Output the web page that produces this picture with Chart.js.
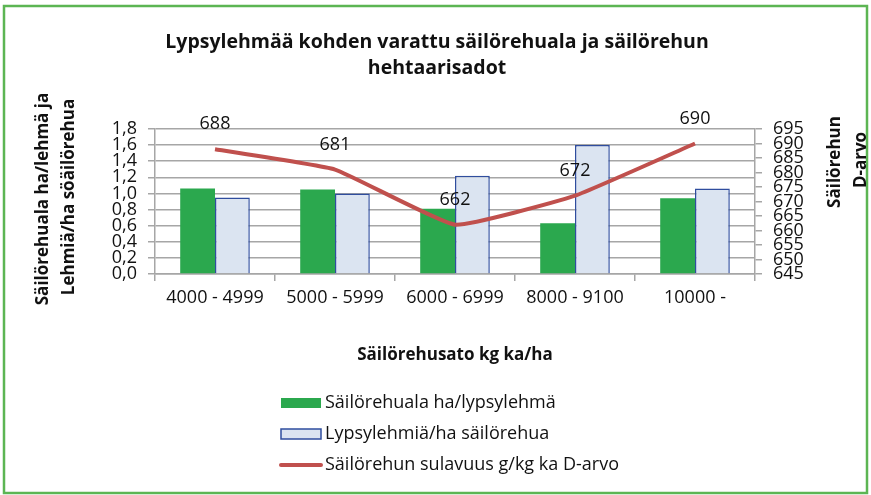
<!DOCTYPE html>
<html>
<head>
<meta charset="utf-8">
<script src="https://cdn.jsdelivr.net/npm/chart.js@4.4.1/dist/chart.umd.min.js"></script>
<style>
  html, body { margin: 0; padding: 0; background: #fff; }
  #wrap { width: 871px; height: 495px; }
</style>
</head>
<body>
<div id="wrap"><canvas id="myChart" width="871" height="495"></canvas></div>
<script>
// data
var categories = ["4000 - 4999", "5000 - 5999", "6000 - 6999", "8000 - 9100", "10000 -"];
var alaPerLehma = [1.06, 1.05, 0.81, 0.63, 0.94];
var lehmiaPerHa = [0.95, 1.00, 1.22, 1.60, 1.06];
var dArvo = [688, 681, 662, 672, 690];

var titleLines = ["Lypsylehmää kohden varattu säilörehuala ja säilörehun", "hehtaarisadot"];
var leftTitle = ["Säilörehuala ha/lehmä ja", "Lehmiä/ha söäilörehua"];
var rightTitle = ["Säilörehun", "D-arvo"];
var xTitle = "Säilörehusato kg ka/ha";

var FONT = "'Open Sans', 'DejaVu Sans', sans-serif";
var gridColor = "#a6a6a6";

// titles, labels, legend and frame
var extras = {
  id: "extras",
  afterDatasetsDraw: function (chart) {
    var ctx = chart.ctx;
    ctx.save();

    // value labels above the line
    var meta = chart.getDatasetMeta(2);
    ctx.fillStyle = "#111";
    ctx.font = "18px " + FONT;
    ctx.textAlign = "center";
    ctx.textBaseline = "middle";
    meta.data.forEach(function (pt, i) {
      ctx.fillText(dArvo[i], pt.x, pt.y - 25);
    });
    ctx.restore();
  },
  afterDraw: function (chart) {
    var ctx = chart.ctx;
    var area = chart.chartArea;
    ctx.save();

    // frame
    ctx.strokeStyle = "#5cb553";
    ctx.lineWidth = 2.5;
    ctx.strokeRect(4, 6, 863, 487);

    // main title
    ctx.fillStyle = "#111";
    ctx.textAlign = "center";
    ctx.textBaseline = "middle";
    ctx.font = "bold 19.5px " + FONT;
    ctx.fillText(titleLines[0], 437, 42);
    ctx.fillText(titleLines[1], 437, 68);

    // x title
    ctx.font = "bold 17px " + FONT;
    ctx.fillText(xTitle, (area.left + area.right) / 2, 355);

    // left title (rotated)
    ctx.save();
    ctx.translate(43, 199);
    ctx.rotate(-Math.PI / 2);
    ctx.fillText(leftTitle[0], 0, 0);
    ctx.restore();
    ctx.save();
    ctx.translate(69, 197);
    ctx.rotate(-Math.PI / 2);
    ctx.fillText(leftTitle[1], 0, 0);
    ctx.restore();

    // right title
    ctx.save();
    ctx.translate(835, 162);
    ctx.rotate(-Math.PI / 2);
    ctx.fillText(rightTitle[0], 0, 0);
    ctx.restore();
    ctx.save();
    ctx.translate(861, 160);
    ctx.rotate(-Math.PI / 2);
    ctx.fillText(rightTitle[1], 0, 0);
    ctx.restore();

    // legend
    var ys = [403, 434, 465];
    ctx.font = "18px " + FONT;
    ctx.textAlign = "left";
    chart.data.datasets.forEach(function (ds, i) {
      var y = ys[i];
      if (ds.type === "line") {
        ctx.strokeStyle = ds.borderColor;
        ctx.lineWidth = 4;
        ctx.lineCap = "round";
        ctx.beginPath();
        ctx.moveTo(281, y);
        ctx.lineTo(321, y);
        ctx.stroke();
      } else {
        ctx.fillStyle = ds.backgroundColor;
        ctx.fillRect(281, y - 5, 40, 10);
        if (ds.borderWidth) {
          ctx.strokeStyle = ds.borderColor;
          ctx.lineWidth = 1.5;
          ctx.strokeRect(281, y - 5, 40, 10);
        }
      }
      ctx.fillStyle = "#111";
      ctx.fillText(ds.label, 325, y);
    });

    ctx.restore();
  }
};

var chart = new Chart(document.getElementById("myChart").getContext("2d"), {
  data: {
    labels: categories,
    datasets: [
      {
        type: "bar",
        label: "Säilörehuala ha/lypsylehmä",
        data: alaPerLehma,
        backgroundColor: "#2ba84e",
        borderWidth: 0,
        yAxisID: "y",
        order: 1,
        barPercentage: 1,
        categoryPercentage: 0.58
      },
      {
        type: "bar",
        label: "Lypsylehmiä/ha säilörehua",
        data: lehmiaPerHa,
        backgroundColor: "#dbe4f1",
        borderColor: "#2f4d9e",
        borderWidth: 1.5,
        yAxisID: "y",
        order: 1,
        barPercentage: 1,
        categoryPercentage: 0.58
      },
      {
        type: "line",
        label: "Säilörehun sulavuus g/kg ka D-arvo",
        data: dArvo,
        borderColor: "#c0504d",
        borderWidth: 4,
        pointRadius: 0,
        tension: 0.12,
        yAxisID: "y1",
        order: 0
      }
    ]
  },
  options: {
    responsive: false,
    animation: false,
    layout: { padding: { left: 0, right: 0, top: 129, bottom: 181 } },
    plugins: {
      legend: { display: false },
      tooltip: { enabled: false },
      title: { display: false }
    },
    scales: {
      x: {
        grid: { offset: true, drawOnChartArea: false, drawTicks: true, tickLength: 7, color: gridColor, lineWidth: 1.5 },
        border: { color: gridColor, width: 1.5 },
        ticks: { color: "#111", font: { family: FONT, size: 18 }, padding: 6, maxRotation: 0 },
        afterFit: function (s) { s.height = 40; }
      },
      y: {
        position: "left",
        min: 0,
        max: 1.8,
        grid: { color: gridColor, lineWidth: 1.5, tickLength: 7 },
        border: { color: gridColor, width: 1.5 },
        ticks: {
          stepSize: 0.2,
          autoSkip: false,
          color: "#111",
          font: { family: FONT, size: 18 },
          padding: 11,
          callback: function (v) { return v.toFixed(1).replace(".", ","); }
        },
        afterFit: function (s) { s.width = 155; }
      },
      y1: {
        position: "right",
        min: 645,
        max: 695,
        grid: { drawOnChartArea: false, color: gridColor, lineWidth: 1.5, tickLength: 7 },
        border: { color: gridColor, width: 1.5 },
        ticks: { stepSize: 5, color: "#111", font: { family: FONT, size: 18 }, padding: 11, autoSkip: false },
        afterFit: function (s) { s.width = 116; }
      }
    }
  },
  plugins: [extras]
});
</script>
</body>
</html>
